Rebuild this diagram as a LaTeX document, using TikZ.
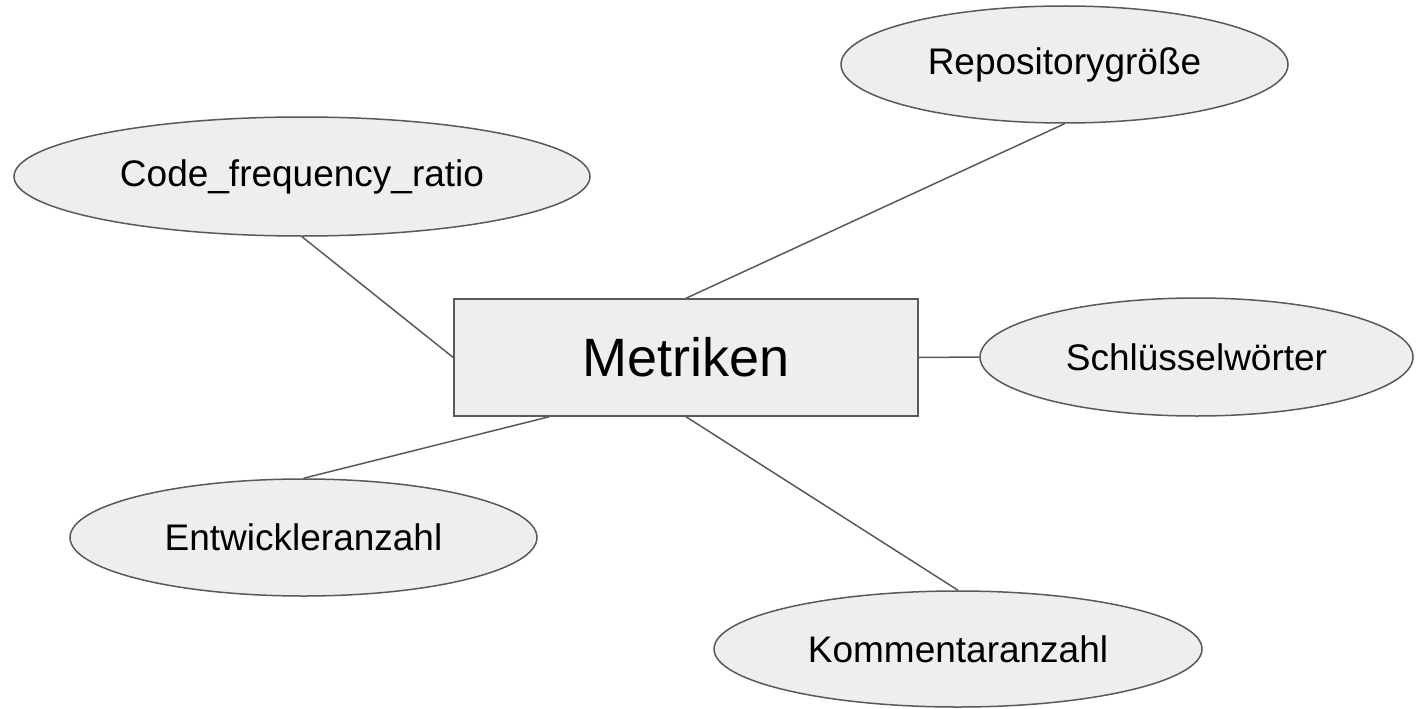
\documentclass[tikz,border=0pt]{standalone}
\usepackage{fontspec}
\setmainfont{Liberation Sans}
\usetikzlibrary{shapes.geometric}
\definecolor{boxfill}{HTML}{EEEEEE}
\definecolor{edge}{HTML}{595959}
\tikzset{
  attr/.style={ellipse, draw=edge, fill=boxfill, line width=1.5pt, inner sep=0pt,
    font=\fontsize{37}{44}\selectfont},
  entity/.style={rectangle, draw=edge, fill=boxfill, line width=1.5pt, inner sep=0pt,
    font=\fontsize{54}{64}\selectfont},
  conn/.style={draw=edge, line width=1.5pt}
}
\begin{document}
\begin{tikzpicture}[x=1pt,y=-1pt]
\useasboundingbox (0,0) rectangle (1416,709);
\node[entity, minimum width=464pt, minimum height=117pt] (met) at (686,357.5) {Metriken};
\node[attr, minimum width=447pt, minimum height=117pt] (rep) at (1064.5,64.5) {Repositorygröße};
\node[attr, minimum width=576pt, minimum height=119pt] (code) at (302,176.5) {Code\_frequency\_ratio};
\node[attr, minimum width=433pt, minimum height=118pt] (schl) at (1196.5,357) {Schlüsselwörter};
\node[attr, minimum width=467pt, minimum height=117pt] (entw) at (303.5,537.5) {Entwickleranzahl};
\node[attr, minimum width=488pt, minimum height=116pt] (komm) at (958,649) {Kommentaranzahl};
\coordinate (metsw) at ([xshift=96pt]met.south west);
\draw[conn] (rep.south) -- (met.north);
\draw[conn] (code.south) -- (met.west);
\draw[conn] (met.east) -- (schl.west);
\draw[conn] (entw.north) -- (metsw);
\draw[conn] (met.south) -- (komm.north);
\end{tikzpicture}
\end{document}
